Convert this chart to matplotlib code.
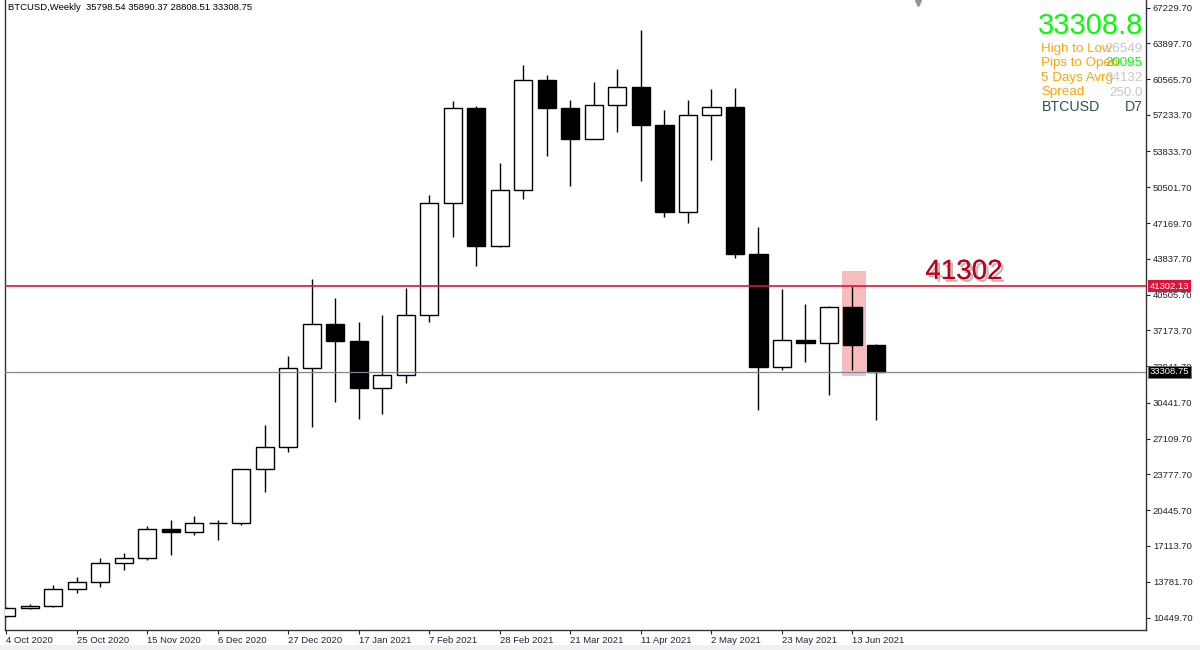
import matplotlib
matplotlib.use("Agg")
import matplotlib.pyplot as plt
import matplotlib.patheffects as pe
from matplotlib.patches import Rectangle

plt.rcParams['font.family'] = ['Liberation Sans', 'DejaVu Sans']

# weekly BTCUSD candles, 4 Oct 2020 .. 20 Jun 2021
opens = [10600, 11380, 11500, 13100, 13800, 15480, 15960, 18690, 18400, 19250,
         19280, 24250, 26300, 33700, 37750, 36150, 31800, 33050, 38600, 49000,
         57850, 45050, 50250, 60450, 57850, 55000, 58150, 59800, 56300, 48200,
         57200, 57950, 44300, 33750, 36250, 36000, 39350, 35798.54]
highs = [11400, 11720, 13450, 14200, 15970, 16480, 18960, 19500, 19900, 19550,
         24300, 28400, 34800, 42000, 40200, 38000, 38650, 41100, 49800, 58500,
         58100, 52800, 61900, 60950, 58600, 60300, 61500, 65100, 57700, 58600,
         59650, 59700, 46800, 41000, 39600, 39450, 41302.13, 35890.37]
lows = [10500, 11250, 11420, 12750, 13290, 14900, 15800, 16300, 18150, 17650,
        19050, 22100, 25900, 28200, 30500, 28900, 29400, 32300, 38000, 45900,
        43200, 44950, 49400, 53400, 50600, 54950, 55650, 51100, 47700, 47150,
        53050, 43900, 29750, 33450, 34250, 31150, 33450, 28808.51]
closes = [11380, 11500, 13100, 13800, 15480, 15960, 18690, 18400, 19250, 19280,
          24250, 26300, 33700, 37750, 36150, 31800, 33050, 38600, 49000, 57850,
          45050, 50250, 60450, 57850, 55000, 58150, 59800, 56300, 48200, 57200,
          57950, 44300, 33750, 36250, 36000, 39350, 35798.54, 33308.75]

date_labels = ["4 Oct 2020", "25 Oct 2020", "15 Nov 2020", "6 Dec 2020",
               "27 Dec 2020", "17 Jan 2021", "7 Feb 2021", "28 Feb 2021",
               "21 Mar 2021", "11 Apr 2021", "2 May 2021", "23 May 2021",
               "13 Jun 2021"]
price_ticks = [67229.70, 63897.70, 60565.70, 57233.70, 53833.70, 50501.70,
               47169.70, 43837.70, 40505.70, 37173.70, 33841.70, 30441.70,
               27109.70, 23777.70, 20445.70, 17113.70, 13781.70, 10449.70]

level = 41302.13
bid = 33308.75
highlight_bar = 36
highlight_lo, highlight_hi = 32930, 42700

header = "BTCUSD,Weekly  35798.54 35890.37 28808.51 33308.75"
big_price = "33308.8"
panel_labels = ["High to Low", "Pips to Open", "5 Days Avrg", "Spread"]
panel_values = ["26549", "20095", "34132", "250.0"]
panel_value_colors = ["#c8c8c8", "#00ff00", "#c8c8c8", "#c8c8c8"]

W, H = 1200, 650
fig = plt.figure(figsize=(W / 100, H / 100), dpi=100)
fig.patch.set_facecolor('white')


def fx(px):
    return px / W


def fy(py):
    return 1 - py / H


ax = fig.add_axes([fx(5), 20 / H, 1141 / W, 630 / H])
ax.set_xlim(-0.06, 48.49)
ax.set_ylim(9287, 67928)

for side in ('left', 'right', 'bottom'):
    ax.spines[side].set_color('#333333')
    ax.spines[side].set_linewidth(1)
ax.spines['top'].set_visible(False)

# candles
width = 0.77
for i, (o, h, l, c) in enumerate(zip(opens, highs, lows, closes)):
    ax.vlines(i, l, h, color='black', lw=1, zorder=2)
    face = 'white' if c >= o else 'black'
    ax.add_patch(Rectangle((i - width / 2, min(o, c)), width, max(abs(c - o), 1),
                           fc=face, ec='black', lw=1, zorder=3))

ax.add_patch(Rectangle((highlight_bar - 0.45, highlight_lo), 1.02,
                       highlight_hi - highlight_lo, fc='#f8bcbc', ec='none', zorder=1))

ax.axhline(level, color='#dc143c', lw=1.2, zorder=4)
ax.axhline(bid, color='#778899', lw=0.9, zorder=4)

ax.text(39.1, 41960, "41302", fontsize=20, color='#c00018', ha='left', va='baseline',
        zorder=5,
        path_effects=[pe.withSimplePatchShadow(offset=(2, -2), shadow_rgbFace='#777777', alpha=0.5),
                      pe.Normal()])

# price scale
ax.yaxis.tick_right()
ax.set_yticks(price_ticks)
ax.set_yticklabels([f"{v:.2f}" for v in price_ticks])
ax.tick_params(axis='y', length=3, pad=2, labelsize=6.8, colors='#222233', width=0.8)

ax.set_xticks(range(0, 3 * len(date_labels), 3))
ax.set_xticklabels(date_labels)
for lbl in ax.get_xticklabels():
    lbl.set_ha('left')
ax.tick_params(axis='x', length=3, pad=1.5, labelsize=6.8, colors='#222233', width=0.8)

ytr = ax.get_yaxis_transform()
ax.text(1.003, level, f"{level:.2f}", transform=ytr, ha='left', va='center',
        color='white', fontsize=6.8, zorder=6, clip_on=False,
        bbox=dict(boxstyle='square,pad=0.2', fc='#dc143c', ec='none'))
ax.text(1.003, bid, f"{bid:.2f}", transform=ytr, ha='left', va='center',
        color='white', fontsize=6.8, zorder=6, clip_on=False,
        bbox=dict(boxstyle='square,pad=0.2', fc='black', ec='#777777', lw=0.6))

ax.plot([38.8], [0.996], marker='v', markersize=4.5, color='#8a96a3',
        transform=ax.get_xaxis_transform(), clip_on=False)

# header and info panel
fig.text(fx(8), fy(8), header, fontsize=6.8, color='black', va='center')

fig.text(fx(1143), fy(34.5), big_price, fontsize=21, color='#00ff00',
         ha='right', va='baseline')
baselines = [52, 66, 81, 95.5]
for lab, val, col, b in zip(panel_labels, panel_values, panel_value_colors, baselines):
    fig.text(fx(1041), fy(b), lab, fontsize=9.6, color='#ffa500', ha='left', va='baseline', zorder=3)
    fig.text(fx(1143), fy(b), val, fontsize=9.6, color=col, ha='right', va='baseline', zorder=5)
fig.text(fx(1042), fy(111), "BTCUSD", fontsize=10.2, color='#2f4f4f', ha='left', va='baseline')
fig.text(fx(1143), fy(111), "D7", fontsize=10.2, color='#2f4f4f', ha='right', va='baseline')

fig.patches.append(Rectangle((0, 0), 1, 5 / H, transform=fig.transFigure,
                             fc='#f0f0f0', ec='none', zorder=0))

fig.savefig("out.png", dpi=100)
